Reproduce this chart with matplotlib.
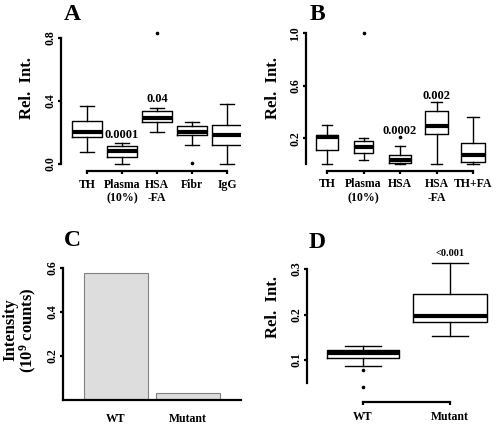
import matplotlib
matplotlib.use('Agg')
import matplotlib.pyplot as plt

plt.rcParams['font.family'] = ['Liberation Serif', 'DejaVu Serif']
plt.rcParams['font.weight'] = 'bold'
plt.rcParams['mathtext.fontset'] = 'custom'
plt.rcParams['mathtext.rm'] = 'Liberation Serif:bold'
plt.rcParams['mathtext.it'] = 'Liberation Serif:bold'

# panel A
a_labels = ['TH', 'Plasma\n(10%)', 'HSA\n-FA', 'Fibr', 'IgG']
a_whislo = [0.074, 0.0, 0.203, 0.123, 0.002]
a_q1 = [0.174, 0.044, 0.265, 0.184, 0.123]
a_med = [0.203, 0.080, 0.292, 0.203, 0.184]
a_q3 = [0.275, 0.116, 0.339, 0.239, 0.250]
a_whishi = [0.366, 0.133, 0.353, 0.265, 0.379]
a_fliers = [[], [], [0.834], [0.004], []]
a_pval = ['', '0.0001', '0.04', '', '']
a_pval_y = [0, 0.185, 0.41, 0, 0]

# panel B
b_labels = ['TH', 'Plasma\n(10%)', 'HSA', 'HSA\n-FA', 'TH+FA']
b_whislo = [0.0, 0.036, 0.0, 0.0, 0.0]
b_q1 = [0.107, 0.089, 0.008, 0.232, 0.018]
b_med = [0.206, 0.135, 0.033, 0.296, 0.071]
b_q3 = [0.227, 0.181, 0.069, 0.410, 0.166]
b_whishi = [0.303, 0.201, 0.143, 0.476, 0.364]
b_fliers = [[], [1.0], [0.209], [], []]
b_pval = ['', '', '0.0002', '0.002', '']
b_pval_y = [0, 0, 0.255, 0.52, 0]

# panel C
c_labels = ['WT', 'Mutant']
c_values = [0.577, 0.032]

# panel D
d_labels = ['WT', 'Mutant']
d_whislo = [0.087, 0.152]
d_q1 = [0.105, 0.184]
d_med = [0.116, 0.196]
d_q3 = [0.122, 0.244]
d_whishi = [0.130, 0.313]
d_fliers = [[0.078, 0.041], []]
d_pval = ['', '<0.001']
d_pval_y = [0, 0.333]

W, H = 496, 424
fig = plt.figure(figsize=(W / 100, H / 100), dpi=100)


def add_ax(x_ref, ppx, xlim, y_ref, ppy, ylim):
    # x_ref = pixel of x=1, y_ref = pixel (from top) of y=0
    left = x_ref + (xlim[0] - 1) * ppx
    right = x_ref + (xlim[1] - 1) * ppx
    top = y_ref - ylim[1] * ppy
    bottom = y_ref - ylim[0] * ppy
    ax = fig.add_axes([left / W, 1 - bottom / H, (right - left) / W, (bottom - top) / H])
    ax.set_xlim(xlim)
    ax.set_ylim(ylim)
    ax.patch.set_alpha(0)
    for s in ['top', 'right']:
        ax.spines[s].set_visible(False)
    for s in ['left', 'bottom']:
        ax.spines[s].set_linewidth(1.6)
    ax.tick_params(width=1.6, length=2.5, labelsize=8.5)
    return ax


def yticks(ax, ticks, bounds):
    ax.set_yticks(ticks)
    ax.set_yticklabels(['%.1f' % t for t in ticks])
    plt.setp(ax.get_yticklabels(), rotation=90, va='center')
    ax.tick_params(axis='y', pad=1)
    ax.spines['left'].set_bounds(*bounds)


def boxes(ax, whislo, q1, med, q3, whishi, fliers, widths):
    stats = []
    for i in range(len(med)):
        stats.append(dict(whislo=whislo[i], q1=q1[i], med=med[i], q3=q3[i],
                          whishi=whishi[i], fliers=fliers[i]))
    lp = dict(color='black', linewidth=1.0, linestyle='-')
    ax.bxp(stats, positions=list(range(1, len(med) + 1)), widths=widths,
           capwidths=[w * 0.5 for w in widths],
           boxprops=lp, whiskerprops=lp, capprops=lp,
           medianprops=dict(color='black', linewidth=3, solid_capstyle='butt'),
           flierprops=dict(marker='o', markersize=1.6, markerfacecolor='black',
                           markeredgecolor='black'),
           manage_ticks=False)


def pvals(ax, texts, ys, size=9):
    for i, (t, y) in enumerate(zip(texts, ys)):
        if t:
            ax.text(i + 1, y, t, ha='center', va='center', fontsize=size, fontweight='bold')


def xlabels(ax, labels, pad, length):
    ax.set_xticks(list(range(1, len(labels) + 1)))
    ax.set_xticklabels(labels, fontsize=8.5, linespacing=1.15, va='top')
    ax.tick_params(axis='x', pad=pad, length=length)
    ax.spines['bottom'].set_bounds(1, len(labels))


# A
ax = add_ax(87, 35, (0.257, 5.4), 164, 157.5, (-0.045, 0.85))
boxes(ax, a_whislo, a_q1, a_med, a_q3, a_whishi, a_fliers, [0.83] * 5)
yticks(ax, [0.0, 0.4, 0.8], (0, 0.8))
xlabels(ax, a_labels, 3, 2.5)
pvals(ax, a_pval, a_pval_y)

# B
ax = add_ax(327, 36.5, (0.425, 5.4), 164.3, 130.8, (-0.05, 1.05))
boxes(ax, b_whislo, b_q1, b_med, b_q3, b_whishi, b_fliers, [0.58, 0.5, 0.58, 0.63, 0.66])
yticks(ax, [0.2, 0.6, 1.0], (0, 1.0))
xlabels(ax, b_labels, 3, 2.5)
pvals(ax, b_pval, b_pval_y)

# C
ax = add_ax(116, 72, (0.264, 2.74), 400, 220, (0, 0.62))
ax.bar([1, 2], c_values, width=0.89, color='#dddddd', edgecolor='#808080', linewidth=0.8)
yticks(ax, [0.2, 0.4, 0.6], (0, 0.6))
ax.set_xticks([1, 2])
ax.set_xticklabels(c_labels, fontsize=8.5)
ax.tick_params(axis='x', length=0, pad=9)

# D
ax = add_ax(363, 87, (0.356, 2.53), 405.5, 455, (0.007, 0.35))
boxes(ax, d_whislo, d_q1, d_med, d_q3, d_whishi, d_fliers, [0.82, 0.84])
yticks(ax, [0.1, 0.2, 0.3], (0.05, 0.3))
xlabels(ax, d_labels, 4, 2.5)
pvals(ax, d_pval, d_pval_y, size=7.5)

# axis titles and panel letters
fig.text(27 / W, 1 - 88 / H, 'Rel.  Int.', rotation=90, ha='center', va='center', fontsize=12)
fig.text(273 / W, 1 - 88 / H, 'Rel.  Int.', rotation=90, ha='center', va='center', fontsize=12)
fig.text(273 / W, 1 - 307 / H, 'Rel.  Int.', rotation=90, ha='center', va='center', fontsize=12)
fig.text(21 / W, 1 - 330 / H, 'Intensity\n(10$^{9}$ counts)', rotation=90, ha='center',
         va='center', fontsize=12, linespacing=0.95)
for letter, x, y in [('A', 72, 14), ('B', 317, 14), ('C', 72, 240), ('D', 317, 243)]:
    fig.text(x / W, 1 - y / H, letter, ha='center', va='center', fontsize=17, fontweight='bold')

fig.savefig('out.png', dpi=100)
